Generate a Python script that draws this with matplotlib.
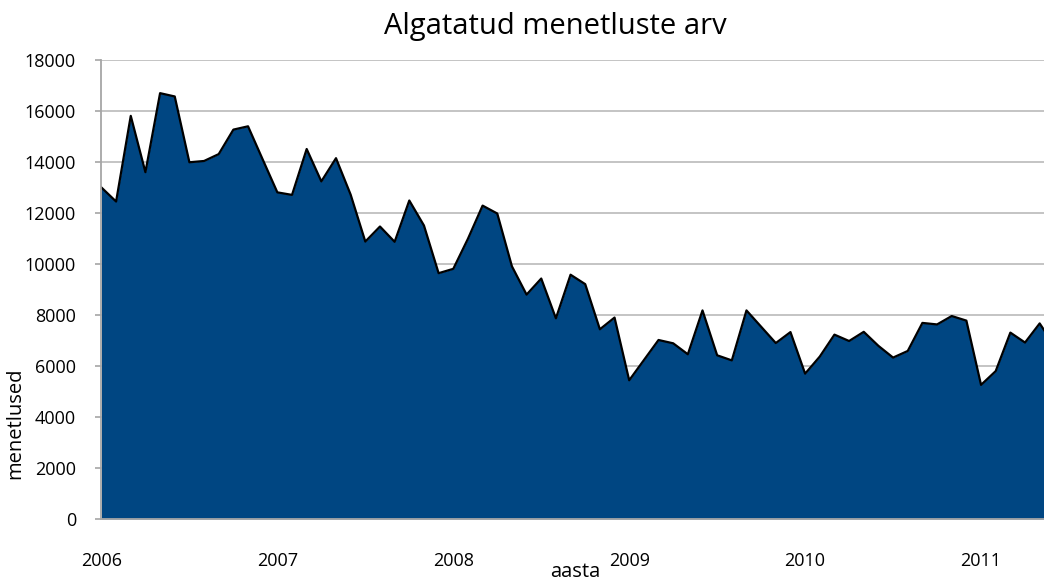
import matplotlib

matplotlib.use("Agg")

import matplotlib.pyplot as plt

# monthly counts, Jan 2006 onwards (last month is cut off by the chart edge)
cases = [
    13000, 12450, 15810, 13600, 16700, 16570, 13990, 14040, 14310, 15270, 15400, 14100,
    12810, 12710, 14510, 13240, 14150, 12720, 10880, 11470, 10870, 12490, 11510, 9640,
    9810, 10990, 12290, 11980, 9910, 8800, 9430, 7870, 9580, 9210, 7440, 7900,
    5440, 6230, 7020, 6890, 6460, 8180, 6420, 6220, 8180, 7540, 6900, 7330,
    5700, 6370, 7230, 6980, 7340, 6790, 6330, 6590, 7690, 7630, 7960, 7780,
    5260, 5800, 7310, 6920, 7670, 6800,
]
years = ["2006", "2007", "2008", "2009", "2010", "2011"]
y_ticks = [0, 2000, 4000, 6000, 8000, 10000, 12000, 14000, 16000, 18000]

months = list(range(len(cases)))
year_pos = [12 * i for i in range(len(years))]

plt.rcParams["font.family"] = ["Open Sans", "DejaVu Sans"]

W, H = 1044, 585
fig = plt.figure(figsize=(W / 100, H / 100), dpi=100)
ax = fig.add_axes([101 / W, 1 - 519 / H, (W - 101) / W, (519 - 60) / H])

fill_color = "#004682"
ax.fill_between(months, cases, 0, color=fill_color, linewidth=0, zorder=2)
ax.plot(months, cases, color="black", linewidth=1.6, zorder=3)

ax.set_xlim(-0.03, (W - 101.7) / 14.656)
ax.set_ylim(0, 18000)
ax.set_yticks(y_ticks)
ax.set_yticklabels([str(v) for v in y_ticks])
ax.set_xticks(year_pos)
ax.set_xticklabels(years)

ax.grid(axis="y", color="#BFBFBF", linewidth=1.3, zorder=1)
ax.set_axisbelow(True)
for side in ("top", "right"):
    ax.spines[side].set_visible(False)
for side in ("left", "bottom"):
    ax.spines[side].set_color("#A6A6A6")
    ax.spines[side].set_linewidth(1.3)
    ax.spines[side].set_zorder(4)

ax.tick_params(axis="y", length=4, width=1.2, color="#A6A6A6", pad=14, labelsize=13)
ax.tick_params(axis="x", length=0, pad=24, labelsize=13)

fig.text(555 / W, 1 - 34 / H, "Algatatud menetluste arv", ha="center", va="baseline", fontsize=21)
fig.text(15 / W, 1 - 423 / H, "menetlused", rotation=90, ha="center", va="center", fontsize=14.5)
fig.text(575 / W, 1 - 572 / H, "aasta", ha="center", va="center", fontsize=14.5)

fig.savefig("out.png", dpi=100)
plt.close(fig)
